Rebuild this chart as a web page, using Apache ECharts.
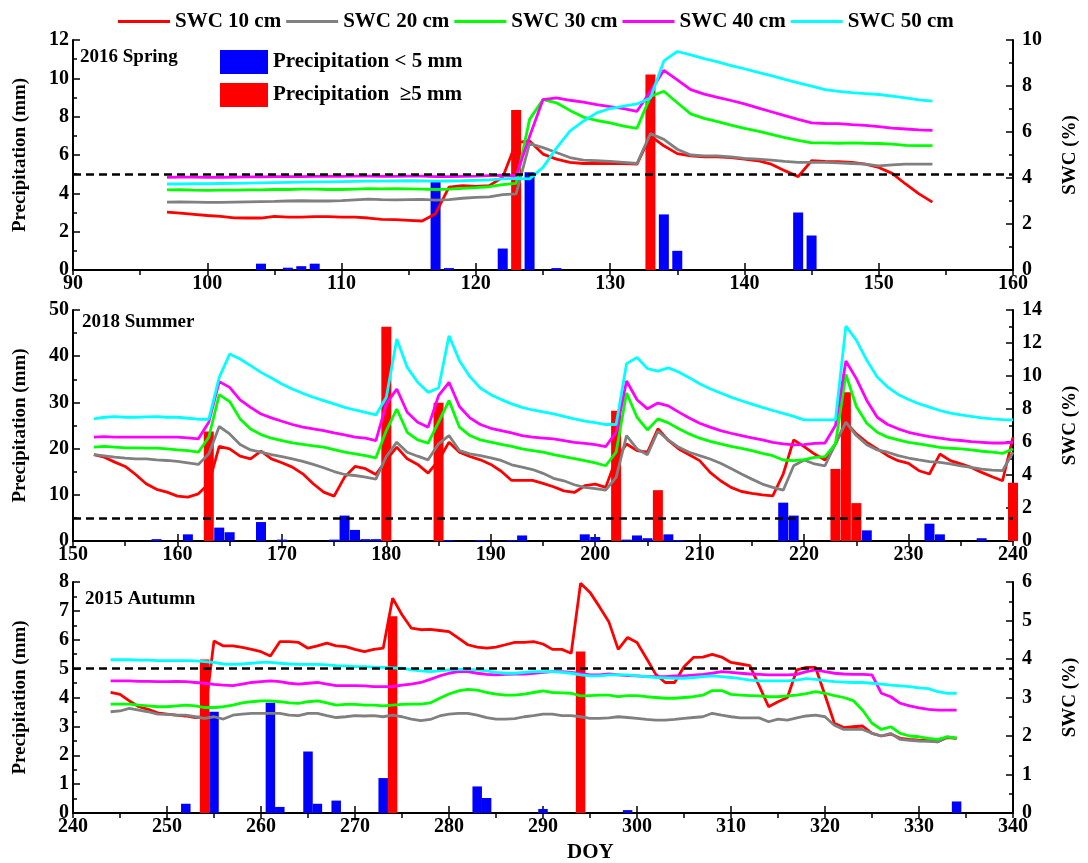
<!DOCTYPE html>
<html>
<head>
<meta charset="utf-8">
<title>SWC and precipitation</title>
<script src="https://cdn.jsdelivr.net/npm/echarts@6/dist/echarts.min.js"></script>
<style>
  html, body { margin: 0; padding: 0; background: #fff; }
  #main { width: 1088px; height: 863px; }
</style>
</head>
<body>
<div id="main"></div>
<script>
// ---- data: 2016 spring (DOY 97-154) ----
var springStart = 97;
var springRed = [2.52, 2.47, 2.42, 2.37, 2.33, 2.27, 2.26, 2.26, 2.33, 2.3, 2.3, 2.32, 2.32, 2.3, 2.3, 2.26, 2.2, 2.19, 2.16, 2.13,
  2.45, 3.6, 3.67, 3.63, 3.67, 4.03, 5.54, 5.61, 5.04, 4.82, 4.68, 4.63, 4.63, 4.63, 4.63, 4.6, 5.83, 5.4, 5.06, 4.96,
  4.92, 4.92, 4.89, 4.82, 4.75, 4.6, 4.32, 4.06, 4.75, 4.72, 4.71, 4.68, 4.6, 4.46, 4.2, 3.74, 3.31, 2.95];
var springGray = [2.95, 2.96, 2.95, 2.94, 2.94, 2.95, 2.96, 2.97, 2.98, 3.0, 3.01, 3.0, 3.0, 3.02, 3.05, 3.08, 3.06, 3.05, 3.06, 3.07,
  3.04, 3.06, 3.12, 3.16, 3.18, 3.28, 3.31, 5.5, 5.32, 5.11, 4.89, 4.78, 4.75, 4.72, 4.68, 4.63, 5.93, 5.68, 5.25, 5.0,
  4.96, 4.96, 4.92, 4.85, 4.82, 4.78, 4.72, 4.68, 4.68, 4.68, 4.66, 4.63, 4.6, 4.53, 4.57, 4.6, 4.6, 4.6];
var springGreen = [3.48, 3.49, 3.47, 3.46, 3.47, 3.47, 3.48, 3.48, 3.5, 3.5, 3.52, 3.52, 3.5, 3.5, 3.52, 3.54, 3.53, 3.54, 3.53, 3.52,
  3.5, 3.52, 3.55, 3.58, 3.62, 3.71, 3.77, 6.55, 7.41, 7.27, 6.94, 6.65, 6.5, 6.4, 6.26, 6.16, 7.55, 7.77, 7.27, 6.79,
  6.59, 6.45, 6.3, 6.16, 6.04, 5.9, 5.76, 5.64, 5.53, 5.53, 5.51, 5.53, 5.51, 5.5, 5.47, 5.42, 5.41, 5.41];
var springMagenta = [4.03, 4.04, 4.04, 4.03, 4.03, 4.04, 4.05, 4.05, 4.06, 4.06, 4.06, 4.07, 4.07, 4.07, 4.08, 4.08, 4.07, 4.07, 4.08, 4.08,
  4.06, 4.06, 4.07, 4.08, 4.1, 4.12, 4.1, 5.8, 7.41, 7.48, 7.38, 7.3, 7.19, 7.1, 7.02, 6.9, 7.77, 8.68, 8.27, 7.84,
  7.65, 7.51, 7.37, 7.22, 7.05, 6.88, 6.71, 6.55, 6.4, 6.37, 6.36, 6.32, 6.29, 6.23, 6.17, 6.13, 6.09, 6.07];
var springCyan = [3.74, 3.74, 3.75, 3.75, 3.76, 3.77, 3.78, 3.79, 3.8, 3.81, 3.82, 3.83, 3.83, 3.84, 3.85, 3.86, 3.86, 3.87, 3.88, 3.87,
  3.86, 3.87, 3.88, 3.9, 3.92, 3.96, 3.98, 3.96, 4.46, 5.3, 6.04, 6.47, 6.83, 7.02, 7.12, 7.22, 7.48, 9.09, 9.5, 9.35,
  9.19, 9.05, 8.89, 8.75, 8.59, 8.45, 8.29, 8.14, 7.99, 7.84, 7.77, 7.71, 7.67, 7.63, 7.56, 7.48, 7.4, 7.34];
var springLow = [[104, 0.33], [106, 0.12], [107, 0.2], [108, 0.33], [117, 4.6], [118, 0.1], [122, 1.12], [124, 5.1],
  [126, 0.1], [134, 2.9], [135, 1.0], [144, 3.0], [145, 1.8]];
var springHigh = [[123, 8.35], [133, 10.2]];

// ---- data: 2018 summer (DOY 152-240) ----
var summerStart = 152;
var summerRed = [5.24, 5.08, 4.78, 4.52, 4.03, 3.47, 3.13, 2.96, 2.72, 2.66, 2.86, 3.47, 5.73, 5.58, 5.14, 4.98, 5.44, 4.98, 4.74, 4.48,
  4.07, 3.47, 2.96, 2.72, 3.87, 4.52, 4.38, 4.03, 4.92, 5.69, 4.98, 4.64, 4.11, 4.88, 5.99, 5.38, 5.12, 4.92, 4.64, 4.23,
  3.67, 3.67, 3.67, 3.49, 3.29, 3.04, 2.94, 3.35, 3.45, 3.25, 4.97, 5.88, 5.48, 5.38, 6.8, 6.09, 5.58, 5.23, 4.87, 4.16,
  3.65, 3.25, 3.0, 2.88, 2.8, 2.74, 4.06, 6.13, 5.72, 5.27, 4.91, 5.88, 7.2, 6.49, 5.98, 5.58, 5.17, 4.87, 4.71, 4.26,
  4.06, 5.27, 4.87, 4.67, 4.46, 4.16, 3.89, 3.65, 6.29];
var summerGray = [5.24, 5.16, 5.08, 5.02, 4.98, 4.98, 4.92, 4.88, 4.82, 4.74, 4.64, 5.28, 6.94, 6.49, 5.85, 5.52, 5.38, 5.24, 5.12, 4.98,
  4.82, 4.64, 4.44, 4.21, 4.03, 3.97, 3.87, 3.75, 5.12, 5.99, 5.38, 5.14, 4.92, 5.89, 6.39, 5.48, 5.28, 5.18, 5.04, 4.88,
  4.62, 4.48, 4.33, 4.1, 3.8, 3.65, 3.41, 3.25, 3.18, 3.08, 3.85, 6.39, 5.58, 5.23, 6.65, 6.13, 5.68, 5.38, 5.17, 4.97,
  4.71, 4.4, 4.06, 3.75, 3.45, 3.25, 3.08, 4.56, 4.91, 4.67, 4.56, 5.88, 7.2, 6.39, 5.84, 5.52, 5.38, 5.17, 5.03, 4.91,
  4.81, 4.77, 4.67, 4.56, 4.46, 4.36, 4.3, 4.26, 5.38];
var summerGreen = [5.69, 5.73, 5.69, 5.65, 5.65, 5.63, 5.63, 5.58, 5.52, 5.48, 5.38, 6.29, 8.87, 8.45, 7.4, 6.79, 6.45, 6.23, 6.09, 5.95,
  5.85, 5.77, 5.69, 5.54, 5.38, 5.28, 5.18, 5.04, 6.69, 8.0, 6.59, 6.13, 5.93, 7.2, 8.51, 6.9, 6.39, 6.13, 5.99, 5.85,
  5.73, 5.58, 5.48, 5.38, 5.23, 5.11, 4.99, 4.87, 4.73, 4.56, 5.38, 8.97, 7.5, 6.73, 7.4, 7.16, 6.8, 6.49, 6.23, 6.04,
  5.88, 5.74, 5.62, 5.48, 5.31, 5.17, 4.91, 4.87, 4.93, 5.07, 5.11, 5.88, 10.1, 8.15, 7.14, 6.59, 6.29, 6.13, 5.98, 5.88,
  5.78, 5.68, 5.62, 5.58, 5.52, 5.44, 5.38, 5.31, 5.58];
var summerMagenta = [6.29, 6.33, 6.29, 6.29, 6.29, 6.29, 6.29, 6.29, 6.29, 6.25, 6.19, 7.2, 9.66, 9.31, 8.55, 8.1, 7.7, 7.46, 7.26, 7.06,
  6.9, 6.79, 6.69, 6.55, 6.43, 6.29, 6.23, 6.09, 8.31, 9.21, 7.8, 7.2, 6.9, 8.81, 9.62, 8.15, 7.46, 7.06, 6.83, 6.69,
  6.55, 6.39, 6.29, 6.24, 6.19, 6.09, 5.98, 5.92, 5.84, 5.72, 6.59, 9.7, 8.56, 8.01, 8.36, 8.19, 7.81, 7.46, 7.14, 6.9,
  6.69, 6.53, 6.39, 6.25, 6.13, 5.98, 5.88, 5.82, 5.84, 5.92, 5.94, 7.0, 10.91, 9.84, 8.52, 7.5, 7.06, 6.8, 6.59, 6.45,
  6.33, 6.23, 6.15, 6.09, 6.02, 5.98, 5.94, 5.94, 5.98];
var summerCyan = [7.4, 7.5, 7.54, 7.5, 7.5, 7.52, 7.54, 7.5, 7.5, 7.44, 7.38, 7.38, 9.92, 11.33, 11.03, 10.63, 10.22, 9.88, 9.52, 9.21,
  8.95, 8.71, 8.51, 8.31, 8.1, 7.94, 7.8, 7.64, 8.71, 12.24, 10.52, 9.62, 9.01, 9.27, 12.44, 10.93, 9.96, 9.27, 8.87, 8.57,
  8.31, 8.1, 7.94, 7.82, 7.71, 7.55, 7.4, 7.26, 7.18, 7.06, 7.06, 10.75, 11.12, 10.45, 10.3, 10.49, 10.24, 9.9, 9.53, 9.23,
  8.97, 8.72, 8.5, 8.3, 8.1, 7.91, 7.73, 7.55, 7.34, 7.34, 7.34, 7.34, 13.02, 12.17, 10.95, 9.94, 9.33, 8.88, 8.58, 8.32,
  8.11, 7.91, 7.75, 7.65, 7.55, 7.46, 7.4, 7.36, 7.34];
var summerLow = [[158, 0.4], [161, 1.44], [164, 2.9], [165, 1.9], [168, 4.1], [170, 0.3], [175, 0.3], [176, 5.5], [177, 2.4],
  [178, 0.4], [179, 0.4], [186, 0.2], [189, 0.2], [192, 0.2], [193, 1.2], [199, 1.44], [200, 0.86], [203, 0.3], [204, 1.2],
  [205, 0.6], [207, 1.44], [208, 0.2], [218, 8.3], [219, 5.5], [226, 2.3], [232, 3.75], [233, 1.44], [237, 0.6]];
var summerHigh = [[163, 23.7], [180, 46.4], [185, 29.9], [202, 28.2], [206, 11.0], [223, 15.6], [224, 32.2], [225, 8.2], [240, 12.6]];

// ---- data: 2015 autumn (DOY 244-334) ----
var autumnStart = 244;
var autumnRed = [3.13, 3.08, 2.91, 2.76, 2.69, 2.6, 2.57, 2.54, 2.52, 2.48, 2.5, 4.47, 4.34, 4.34, 4.3, 4.25, 4.19, 4.08, 4.45, 4.45,
  4.43, 4.28, 4.34, 4.41, 4.34, 4.32, 4.25, 4.19, 4.25, 4.28, 5.58, 5.15, 4.8, 4.76, 4.77, 4.74, 4.71, 4.54, 4.37, 4.31,
  4.28, 4.31, 4.37, 4.43, 4.43, 4.45, 4.39, 4.25, 4.25, 4.15, 5.97, 5.73, 5.36, 4.97, 4.25, 4.56, 4.43, 4.02, 3.6, 3.39,
  3.39, 3.8, 4.04, 4.05, 4.12, 4.05, 3.91, 3.87, 3.83, 3.3, 2.76, 2.89, 3.0, 3.72, 3.78, 3.78, 3.06, 2.33, 2.22, 2.24,
  2.26, 2.07, 2.0, 2.05, 1.94, 1.91, 1.89, 1.88, 1.85, 1.96, 1.94];
var autumnGray = [2.63, 2.65, 2.72, 2.67, 2.63, 2.57, 2.56, 2.54, 2.54, 2.5, 2.46, 2.5, 2.44, 2.54, 2.57, 2.59, 2.59, 2.59, 2.59, 2.54,
  2.53, 2.59, 2.59, 2.53, 2.48, 2.5, 2.53, 2.52, 2.53, 2.5, 2.54, 2.5, 2.44, 2.4, 2.43, 2.52, 2.57, 2.59, 2.59, 2.54,
  2.48, 2.44, 2.44, 2.45, 2.5, 2.53, 2.57, 2.57, 2.53, 2.53, 2.5, 2.46, 2.46, 2.47, 2.5, 2.48, 2.46, 2.43, 2.41, 2.41,
  2.43, 2.46, 2.48, 2.5, 2.59, 2.54, 2.5, 2.47, 2.47, 2.47, 2.37, 2.44, 2.41, 2.47, 2.52, 2.54, 2.5, 2.28, 2.17, 2.17,
  2.17, 2.07, 2.0, 2.07, 1.91, 1.89, 1.87, 1.86, 1.85, 1.98, 1.94];
var autumnGreen = [2.83, 2.83, 2.83, 2.8, 2.78, 2.76, 2.76, 2.78, 2.8, 2.78, 2.74, 2.74, 2.76, 2.8, 2.86, 2.89, 2.91, 2.91, 2.89, 2.86,
  2.85, 2.89, 2.91, 2.86, 2.8, 2.82, 2.82, 2.8, 2.8, 2.78, 2.8, 2.82, 2.83, 2.83, 2.86, 2.98, 3.09, 3.17, 3.21, 3.19,
  3.13, 3.09, 3.06, 3.06, 3.09, 3.13, 3.17, 3.13, 3.12, 3.11, 3.04, 3.05, 3.06, 3.06, 3.02, 3.05, 3.05, 3.02, 3.0, 2.98,
  2.98, 3.0, 3.02, 3.06, 3.18, 3.18, 3.08, 3.06, 3.05, 3.04, 3.02, 3.02, 3.04, 3.06, 3.1, 3.15, 3.11, 3.05, 3.0, 2.92,
  2.67, 2.33, 2.17, 2.24, 2.07, 2.0, 1.98, 1.94, 1.91, 1.98, 1.95];
var autumnMagenta = [3.43, 3.43, 3.43, 3.42, 3.42, 3.41, 3.41, 3.42, 3.41, 3.39, 3.37, 3.34, 3.32, 3.31, 3.35, 3.39, 3.41, 3.43, 3.41, 3.37,
  3.35, 3.37, 3.39, 3.35, 3.31, 3.31, 3.31, 3.3, 3.28, 3.28, 3.28, 3.32, 3.35, 3.39, 3.47, 3.56, 3.63, 3.67, 3.67, 3.63,
  3.6, 3.59, 3.6, 3.61, 3.61, 3.63, 3.65, 3.67, 3.67, 3.65, 3.62, 3.59, 3.59, 3.61, 3.59, 3.57, 3.56, 3.54, 3.54, 3.54,
  3.56, 3.56, 3.58, 3.6, 3.63, 3.67, 3.65, 3.63, 3.61, 3.6, 3.59, 3.59, 3.59, 3.6, 3.67, 3.72, 3.67, 3.63, 3.61, 3.6,
  3.6, 3.59, 3.11, 3.02, 2.85, 2.78, 2.73, 2.69, 2.67, 2.67, 2.67];
var autumnCyan = [3.98, 3.98, 3.98, 3.97, 3.97, 3.96, 3.96, 3.96, 3.96, 3.95, 3.93, 3.91, 3.87, 3.86, 3.87, 3.89, 3.91, 3.91, 3.89, 3.87,
  3.86, 3.86, 3.86, 3.85, 3.83, 3.82, 3.8, 3.8, 3.79, 3.78, 3.77, 3.76, 3.72, 3.69, 3.67, 3.69, 3.72, 3.73, 3.73, 3.72,
  3.69, 3.65, 3.63, 3.63, 3.65, 3.67, 3.67, 3.67, 3.65, 3.63, 3.59, 3.56, 3.56, 3.59, 3.59, 3.59, 3.56, 3.54, 3.52, 3.51,
  3.5, 3.5, 3.52, 3.54, 3.56, 3.54, 3.52, 3.49, 3.45, 3.43, 3.43, 3.43, 3.43, 3.45, 3.49, 3.47, 3.44, 3.41, 3.4, 3.39,
  3.39, 3.37, 3.35, 3.32, 3.3, 3.28, 3.25, 3.23, 3.15, 3.11, 3.11];
var autumnLow = [[252, 0.32], [255, 3.51], [261, 3.82], [262, 0.21], [265, 2.13], [266, 0.32], [268, 0.43], [273, 1.21],
  [283, 0.92], [284, 0.52], [290, 0.14], [299, 0.1], [334, 0.4]];
var autumnHigh = [[254, 5.32], [274, 6.81], [294, 5.59]];

var swcNames = ['SWC 10 cm', 'SWC 20 cm', 'SWC 30 cm', 'SWC 40 cm', 'SWC 50 cm'];
var swcColors = ['#ff0000', '#808080', '#00ff00', '#ff00ff', '#00ffff'];
var lowName = 'Precipitation < 5 mm';
var highName = 'Precipitation  \u22655 mm';

var panels = [
  { label: '2016 Spring', start: springStart, lines: [springRed, springGray, springGreen, springMagenta, springCyan],
    low: springLow, high: springHigh, xMin: 90, xMax: 160, pMax: 12, pStep: 2, sMax: 10, sStep: 2, barW: 10 },
  { label: '2018 Summer', start: summerStart, lines: [summerRed, summerGray, summerGreen, summerMagenta, summerCyan],
    low: summerLow, high: summerHigh, xMin: 150, xMax: 240, pMax: 50, pStep: 10, sMax: 14, sStep: 2, barW: 10 },
  { label: '2015 Autumn', start: autumnStart, lines: [autumnRed, autumnGray, autumnGreen, autumnMagenta, autumnCyan],
    low: autumnLow, high: autumnHigh, xMin: 240, xMax: 340, pMax: 8, pStep: 1, sMax: 6, sStep: 1, barW: 9.5 }
];

var font = 'Liberation Serif';
var gridPos = [{ top: 40, height: 230 }, { top: 310, height: 231 }, { top: 582, height: 231 }];
var titlePos = [{ left: 80, top: 48 }, { left: 82, top: 313 }, { left: 85, top: 590 }];

function toPairs(start, vals) {
  return vals.map(function (v, i) { return [start + i, v]; });
}

var grids = [], xAxes = [], yAxes = [], series = [], titles = [];
var tickStyle = { color: '#000', width: 1.5 };

panels.forEach(function (p, k) {
  grids.push({ left: 73, right: 67, top: gridPos[k].top, height: gridPos[k].height });
  titles.push({ text: p.label, left: titlePos[k].left, top: titlePos[k].top, padding: 0,
    textStyle: { fontFamily: font, fontWeight: 'bold', fontSize: 19, color: '#000' } });
});

// bottom x axes
panels.forEach(function (p, k) {
  xAxes.push({
    type: 'value', gridIndex: k, position: 'bottom', min: p.xMin, max: p.xMax, interval: 10,
    axisLine: { lineStyle: { color: '#000', width: 2 } },
    axisTick: { inside: true, length: 7, lineStyle: tickStyle },
    axisLabel: { margin: 4, fontFamily: font, fontWeight: 'bold', fontSize: 20, color: '#000' },
    splitLine: { show: false }
  });
});
// top x axes (frame with ticks)
panels.forEach(function (p, k) {
  xAxes.push({
    type: 'value', gridIndex: k, position: 'top', min: p.xMin, max: p.xMax, interval: 5,
    axisLine: { lineStyle: { color: '#000', width: 2 } },
    axisTick: { inside: true, length: 5, lineStyle: tickStyle },
    axisLabel: { show: false }, splitLine: { show: false }
  });
});
// left y axes
panels.forEach(function (p, k) {
  yAxes.push({
    type: 'value', gridIndex: k, position: 'left', min: 0, max: p.pMax, interval: p.pStep,
    name: 'Precipitation (mm)', nameLocation: 'middle', nameGap: 43, nameRotate: 90,
    nameTextStyle: { fontFamily: font, fontWeight: 'bold', fontSize: 19, color: '#000' },
    axisLine: { show: true, lineStyle: { color: '#000', width: 2 } },
    axisTick: { show: true, inside: true, length: 7, lineStyle: tickStyle },
    minorTick: { show: true, splitNumber: 2, length: 4, lineStyle: tickStyle },
    axisLabel: { margin: 4, fontFamily: font, fontWeight: 'bold', fontSize: 20, color: '#000' },
    splitLine: { show: false }
  });
});
// right y axes
panels.forEach(function (p, k) {
  yAxes.push({
    type: 'value', gridIndex: k, position: 'right', min: 0, max: p.sMax, interval: p.sStep,
    name: 'SWC (%)', nameLocation: 'middle', nameGap: 48, nameRotate: 90,
    nameTextStyle: { fontFamily: font, fontWeight: 'bold', fontSize: 19, color: '#000' },
    axisLine: { show: true, lineStyle: { color: '#000', width: 2 } },
    axisTick: { show: true, inside: true, length: 7, lineStyle: tickStyle },
    minorTick: { show: true, splitNumber: 2, length: 4, lineStyle: tickStyle },
    axisLabel: { margin: 9, fontFamily: font, fontWeight: 'bold', fontSize: 20, color: '#000' },
    splitLine: { show: false }
  });
});

panels.forEach(function (p, k) {
  series.push({
    name: lowName, type: 'bar', xAxisIndex: k, yAxisIndex: k, data: p.low,
    barWidth: p.barW, barGap: '-100%', itemStyle: { color: '#0000ff' },
    markLine: {
      silent: true, symbol: 'none', label: { show: false },
      lineStyle: { color: '#000', width: 2.5, type: [8, 5] },
      data: [{ yAxis: 5 }]
    }
  });
  series.push({
    name: highName, type: 'bar', xAxisIndex: k, yAxisIndex: k, data: p.high,
    barWidth: p.barW, barGap: '-100%', itemStyle: { color: '#ff0000' }
  });
  p.lines.forEach(function (vals, j) {
    series.push({
      name: swcNames[j], type: 'line', xAxisIndex: k, yAxisIndex: k + 3,
      data: toPairs(p.start, vals), symbol: 'none', showSymbol: false,
      lineStyle: { color: swcColors[j], width: 2.8 }, itemStyle: { color: swcColors[j] }
    });
  });
});

titles.push({ text: 'DOY', left: 567, top: 842, padding: 0,
  textStyle: { fontFamily: font, fontWeight: 'bold', fontSize: 21, color: '#000' } });

var chart = echarts.init(document.getElementById('main'));
chart.setOption({
  backgroundColor: '#fff',
  animation: false,
  title: titles,
  legend: [
    {
      data: swcNames, top: 6, left: 113, icon: 'rect', itemWidth: 52, itemHeight: 3, itemGap: 5,
      textStyle: { fontFamily: font, fontWeight: 'bold', fontSize: 21, color: '#000' }
    },
    {
      data: [lowName, highName], orient: 'vertical', left: 215, top: 45, icon: 'rect',
      itemWidth: 48, itemHeight: 24, itemGap: 9,
      textStyle: { fontFamily: font, fontWeight: 'bold', fontSize: 21, color: '#000' }
    }
  ],
  grid: grids,
  xAxis: xAxes,
  yAxis: yAxes,
  series: series
});
</script>
</body>
</html>
